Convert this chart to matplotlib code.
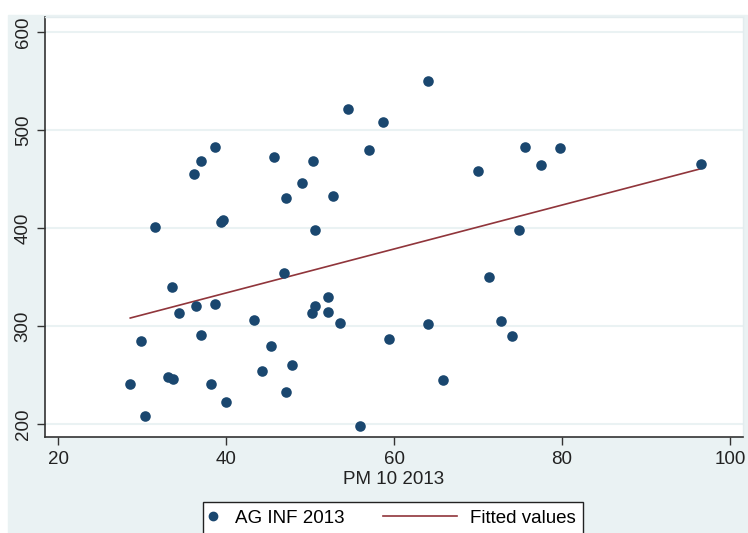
import matplotlib.pyplot as plt
import numpy as np
from matplotlib.legend_handler import HandlerBase
from matplotlib.lines import Line2D
from matplotlib.patches import Rectangle

plt.rcParams["font.family"] = ["Liberation Sans", "DejaVu Sans"]

# PM 10 2013 (x) と AG INF 2013 (y)
pm10 = [
    28.6, 29.9, 30.4, 33.1, 33.7, 33.6, 34.4, 36.4, 37.0, 38.7,
    38.2, 40.0, 43.3, 45.3, 44.3, 46.9, 47.1, 47.8, 50.2, 50.6,
    52.2, 52.2, 53.6, 56.0,
    31.6, 36.2, 37.0, 38.7, 39.4, 39.7, 45.7, 47.1, 49.0, 50.4,
    50.6, 52.7, 54.5, 57.0,
    58.7, 64.1, 70.0, 75.6, 77.5, 79.8, 74.9, 96.5,
    59.4, 64.1, 65.8, 71.3, 72.7, 74.0,
]
ag_inf = [
    240.5, 285.0, 208.2, 247.6, 246.2, 340.1, 313.0, 320.7, 291.1, 322.4,
    240.5, 222.4, 305.8, 279.3, 254.4, 354.4, 232.3, 260.5, 313.0, 320.4,
    329.6, 314.6, 303.4, 198.3,
    401.3, 455.1, 468.7, 483.0, 405.8, 408.2, 472.1, 430.9, 445.9, 468.0,
    398.0, 432.7, 521.4, 479.3,
    508.5, 549.7, 458.5, 482.7, 464.6, 481.6, 397.6, 465.0,
    287.0, 301.7, 245.2, 350.3, 305.4, 290.1,
]
x_ticks = [20, 40, 60, 80, 100]
y_ticks = [200, 300, 400, 500, 600]

NAVY = "#1a476f"
MAROON = "#90353b"
BG = "#eaf2f3"


class DotHandler(HandlerBase):
    # 凡例の点を左寄せにする
    def create_artists(self, legend, orig_handle, xdescent, ydescent,
                       width, height, fontsize, trans):
        y = height / 2 - ydescent
        m = Line2D([2 - xdescent], [y], ls="none", marker="o", ms=6,
                   color=NAVY, transform=trans)
        return [m]


class LongLineHandler(HandlerBase):
    # 凡例の線を左に長く伸ばす
    def create_artists(self, legend, orig_handle, xdescent, ydescent,
                       width, height, fontsize, trans):
        y = height / 2 - ydescent
        ln = Line2D([-45 - xdescent, 8 - xdescent], [y, y], color=MAROON,
                    lw=1.2, transform=trans)
        return [ln]


x = np.array(pm10)
y = np.array(ag_inf)
slope, intercept = np.polyfit(x, y, 1)
xs = np.array([x.min(), x.max()])

fig = plt.figure(figsize=(7.48, 5.33), dpi=100)
fig.patch.set_facecolor("white")
# Stata風の外側の背景
fig.patches.append(Rectangle((8 / 748, 0), 739 / 748, 1 - 15 / 533,
                             transform=fig.transFigure, color=BG, zorder=-10))

ax = fig.add_axes([45 / 748, 1 - 437 / 533, 698 / 748, 420 / 533])
ax.set_facecolor("white")
ax.set_xlim(18.45, 101.55)
ax.set_ylim(186.7, 615.3)

for v in y_ticks:
    ax.axhline(v, color=BG, lw=1.5, zorder=0)

sc = ax.scatter(x, y, s=58, color=NAVY, zorder=3, linewidths=0)
(ln,) = ax.plot(xs, intercept + slope * xs, color=MAROON, lw=1.2, zorder=2)

ax.set_xticks(x_ticks)
ax.set_yticks(y_ticks)
ax.tick_params(axis="both", labelsize=13.5, length=6, width=1, color="#333333",
               labelcolor="#222222")
ax.tick_params(axis="x", pad=4)
plt.setp(ax.get_yticklabels(), rotation=90, va="center")
ax.set_xlabel("PM 10 2013", fontsize=13.5, color="#222222", labelpad=2)

for side in ["left", "bottom"]:
    ax.spines[side].set_color("#333333")
    ax.spines[side].set_linewidth(1.2)
for side in ["top", "right"]:
    ax.spines[side].set_color("#e3ecee")
    ax.spines[side].set_linewidth(1.0)

leg = fig.legend(
    [sc, ln], ["AG INF 2013", "Fitted values"],
    handler_map={sc: DotHandler(), ln: LongLineHandler()},
    loc="upper left", bbox_to_anchor=(203 / 748, 1 - 502 / 533),
    ncol=2, fontsize=13.5, frameon=True, fancybox=False, framealpha=1,
    edgecolor="#222222", handlelength=1.0, columnspacing=5.4,
    handletextpad=0.3, borderpad=0.4, borderaxespad=0,
)
leg.get_frame().set_linewidth(1.0)

plt.savefig("out.png", dpi=100)
